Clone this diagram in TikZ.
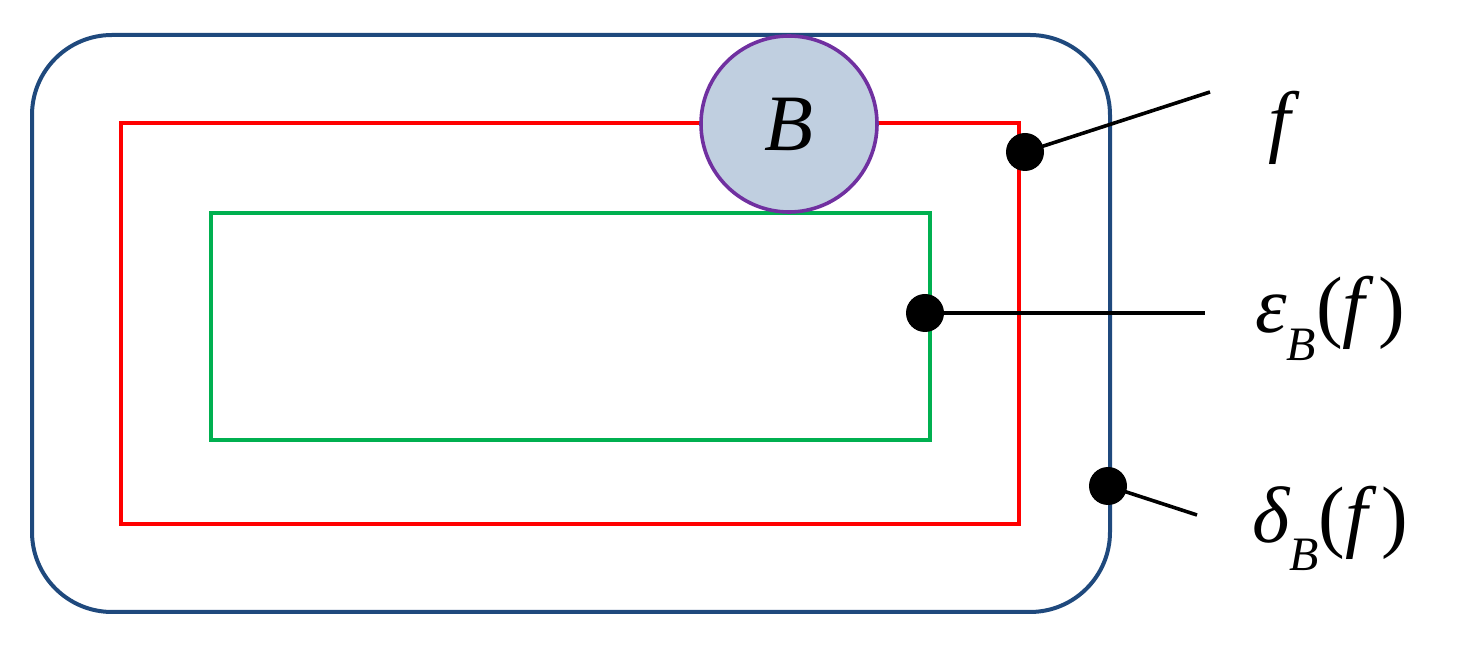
\documentclass[tikz,border=0pt]{standalone}
\usepackage{fontspec}
\setmainfont{Liberation Serif}
\definecolor{bblue}{RGB}{31,73,125}
\definecolor{ggreen}{RGB}{0,176,80}
\definecolor{ppurple}{RGB}{112,48,160}
\definecolor{cfill}{RGB}{192,207,224}
\newcommand{\mysub}[1]{\raisebox{-0.35em}{\fontsize{24}{28}\selectfont\itshape #1}}
\begin{document}
\begin{tikzpicture}[x=0.5pt,y=-0.5pt,
  dot/.style={circle,fill=black,inner sep=0pt,minimum size=19pt},
  lbl/.style={inner sep=0pt,font=\fontsize{40}{48}\selectfont},
  wire/.style={line width=1.8pt}]
\useasboundingbox (0,0) rectangle (1469,646);
\draw[line width=2pt,bblue,rounded corners=40pt] (32,35) rectangle (1110,612);
\draw[line width=2pt,red] (121,123) rectangle (1019,524);
\draw[line width=2pt,ggreen] (211,213) rectangle (930,440);
\node[circle,minimum size=88pt,inner sep=0pt,line width=1.8pt,draw=ppurple,fill=cfill,font=\fontsize{40}{48}\selectfont\itshape] (B) at (789,124) {B};
\node[dot] (d1) at (1025,152) {};
\node[dot] (d2) at (925,313) {};
\node[dot] (d3) at (1108,486) {};
\coordinate (e1) at (1210,92);
\coordinate (e2) at (1205,313);
\coordinate (e3) at (1197,515);
\draw[wire] (d1.center) -- (e1);
\draw[wire] (d2.center) -- (e2);
\draw[wire] (d3.center) -- (e3);
\node[lbl] (f) at (1280,128) {\itshape f};
\node[lbl] (eps) at (1330,318) {\itshape ε\mysub{B}\upshape(\itshape f\,\upshape)};
\node[lbl] (del) at (1330,528) {\itshape δ\mysub{B}\upshape(\itshape f\,\upshape)};
\end{tikzpicture}
\end{document}
